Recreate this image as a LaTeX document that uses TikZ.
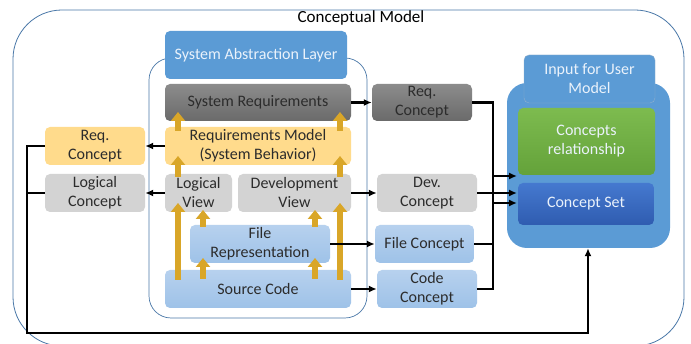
\documentclass[tikz,border=0pt]{standalone}
\usepackage{fontspec}
\setmainfont{Carlito}
\usetikzlibrary{arrows.meta}

\definecolor{frameblue}{HTML}{4A78A8}
\definecolor{hdrblue}{HTML}{5B9BD5}
\definecolor{hdrtext}{HTML}{EAF2FB}
\definecolor{darkgrayA}{HTML}{8C8C8C}
\definecolor{darkgrayB}{HTML}{6A6A6A}
\definecolor{lightgray}{HTML}{D3D3D3}
\definecolor{lightorange}{HTML}{FFDB8C}
\definecolor{lightblueA}{HTML}{B7D1EE}
\definecolor{lightblueB}{HTML}{9EC2E8}
\definecolor{greenA}{HTML}{7DBB4F}
\definecolor{greenB}{HTML}{64A23A}
\definecolor{setblueA}{HTML}{4579CF}
\definecolor{setblueB}{HTML}{2F5CB0}
\definecolor{gold}{HTML}{D9A628}
\definecolor{txt}{HTML}{2C2C2C}

\begin{document}
\begin{tikzpicture}[x=1pt,y=-1pt,
  box/.style={rounded corners=5pt, align=center, inner sep=0pt,
    font=\fontsize{16}{19}\selectfont, text=txt},
  graybox/.style={box, fill=lightgray},
  darkbox/.style={box, top color=darkgrayA, bottom color=darkgrayB},
  orangebox/.style={box, fill=lightorange},
  bluebox/.style={box, top color=lightblueA, bottom color=lightblueB},
  hdrbox/.style={box, fill=hdrblue, text=hdrtext},
  conn/.style={line width=2.4pt, black},
  arr/.style={conn, -{Latex[length=8pt,width=7pt]}},
  up/.style={line width=6pt, gold, -{Triangle[width=14pt,length=9pt]}}
]
\useasboundingbox (0,0) rectangle (691,344);
\fill[white] (0,0) rectangle (691,344);

% outer frame and title
\draw[frameblue, line width=0.8pt, rounded corners=49pt] (13,10) rectangle (684,346);
\node[font=\fontsize{17}{20}\selectfont] (title) at (361,18) {Conceptual Model};

% system abstraction layer container
\draw[frameblue, line width=0.7pt, rounded corners=22pt] (149,58) rectangle (367,318);
\node[hdrbox, minimum width=182pt, minimum height=48pt] (sal) at (256,55) {System Abstraction Layer};

\node[darkbox, minimum width=186pt, minimum height=37pt] (sysreq) at (258,102.5) {System Requirements};
\node[orangebox, minimum width=186pt, minimum height=38pt] (reqmodel) at (258,146) {Requirements Model\\(System Behavior)};
\node[graybox, minimum width=67pt, minimum height=38pt] (logview) at (198.5,193) {Logical\\View};
\node[graybox, minimum width=113pt, minimum height=38pt] (devview) at (294.5,193) {Development\\View};
\node[bluebox, minimum width=140pt, minimum height=38pt] (filerep) at (260,244) {File\\Representation};
\node[bluebox, minimum width=186pt, minimum height=38pt] (source) at (258,289) {Source Code};

% concepts on the left
\node[orangebox, minimum width=100pt, minimum height=38pt] (reqcL) at (95,146) {Req.\\Concept};
\node[graybox, minimum width=100pt, minimum height=38pt] (logc) at (95,193) {Logical\\Concept};

% concepts on the right
\node[darkbox, minimum width=100pt, minimum height=37pt] (reqcR) at (422,102.5) {Req.\\Concept};
\node[graybox, minimum width=100pt, minimum height=38pt] (devc) at (427,193) {Dev.\\Concept};
\node[bluebox, minimum width=99pt, minimum height=38pt] (filec) at (424.5,244) {File Concept};
\node[bluebox, minimum width=100pt, minimum height=38pt] (codec) at (427,289) {Code\\Concept};

% input for user model
\node[box, fill=hdrblue, rounded corners=20pt, minimum width=163pt, minimum height=165pt] (body) at (588.5,165.5) {};
\node[hdrbox, draw=hdrblue!80!black!60, line width=0.4pt, minimum width=131pt, minimum height=48pt] (input) at (589.5,79) {Input for User\\Model};
\node[box, top color=greenA, bottom color=greenB, text=hdrtext, minimum width=137pt, minimum height=67pt] (rel) at (586.5,141.5) {Concepts\\relationship};
\node[box, top color=setblueA, bottom color=setblueB, text=hdrtext, minimum width=136pt, minimum height=42pt] (cset) at (586,204) {Concept Set};

% upward flow inside the abstraction layer
\draw[up] (178,280) -- (178,203);
\draw[up] (340,280) -- (340,203);
\draw[up] (203,279) -- (203,258);
\draw[up] (315,279) -- (315,258);
\draw[up] (203,227) -- (203,210);
\draw[up] (315,227) -- (315,210);
\draw[up] (178,177) -- (178,156);
\draw[up] (340,177) -- (340,156);
\draw[up] (178,131) -- (178,112);
\draw[up] (340,131) -- (340,112);

% extraction arrows
\draw[arr] (sysreq.east) -- (reqcR.west);
\draw[arr] (reqmodel.west) -- (reqcL.east);
\draw[arr] (logview.west) -- (logc.east);
\draw[arr] (devview.east) -- (devc.west);
\draw[arr] (filerep.east) -- (filec.west);
\draw[arr] (source.east) -- (codec.west);

% bus into the user model
\coordinate (bus) at (493,0);
\coordinate (tapA) at (493,176);
\coordinate (tapB) at (493,203);
\coordinate (inA) at (517,176);
\coordinate (inB) at (517,203);
\coordinate (inDev) at (517,193);
\draw[conn] (reqcR.east) -- (reqcR.east -| bus) -- (codec.east -| bus) -- (codec.east);
\draw[conn] (filec.east) -- (filec.east -| bus);
\draw[arr] (tapA) -- (inA);
\draw[arr] (tapB) -- (inB);
\draw[arr] (devc.east) -- (inDev);

% feedback loop from the left concepts
\coordinate (loopL) at (27,333);
\coordinate (loopR) at (588,333);
\draw[arr, line width=2.8pt] (reqcL.west) -| (loopL) -- (loopR) -- (loopR |- body.south);
\draw[conn, line width=2.8pt] (logc.west) -- (logc.west -| loopL);
\end{tikzpicture}
\end{document}
